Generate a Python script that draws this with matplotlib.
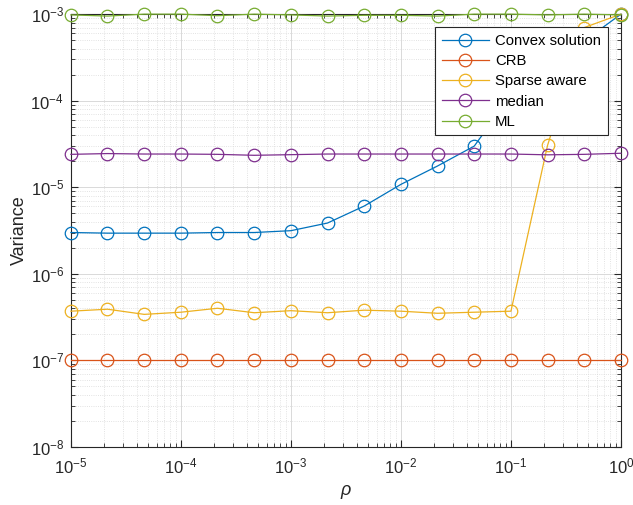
import numpy as np
import matplotlib
matplotlib.use("Agg")
import matplotlib.pyplot as plt
from matplotlib.ticker import FuncFormatter

rho = [1e-5, 2.15e-5, 4.64e-5, 1e-4, 2.15e-4, 4.64e-4, 1e-3, 2.15e-3,
       4.64e-3, 1e-2, 2.15e-2, 4.64e-2, 1e-1, 2.15e-1, 4.64e-1, 1e0]

convex = [3.0e-6, 2.95e-6, 2.95e-6, 2.95e-6, 3.0e-6, 3.0e-6, 3.15e-6, 3.86e-6,
          6.07e-6, 1.08e-5, 1.76e-5, 2.99e-5, 1.15e-4, 2.5e-4, 4.9e-4, 1.0e-3]
crb = [1e-7] * 16
sparse = [3.7e-7, 3.9e-7, 3.4e-7, 3.6e-7, 4.0e-7, 3.55e-7, 3.75e-7, 3.55e-7,
          3.8e-7, 3.7e-7, 3.5e-7, 3.6e-7, 3.7e-7, 3.04e-5, 7.0e-4, 1.0e-3]
median = [2.4e-5, 2.45e-5, 2.42e-5, 2.42e-5, 2.4e-5, 2.34e-5, 2.38e-5, 2.42e-5,
          2.42e-5, 2.42e-5, 2.42e-5, 2.42e-5, 2.42e-5, 2.37e-5, 2.4e-5, 2.47e-5]
ml = [0.98e-3, 0.95e-3, 1.0e-3, 1.0e-3, 0.96e-3, 1.0e-3, 0.98e-3, 0.95e-3,
      0.97e-3, 0.97e-3, 0.95e-3, 1.0e-3, 1.0e-3, 0.98e-3, 1.0e-3, 0.98e-3]

labels = ["Convex solution", "CRB", "Sparse aware", "median", "ML"]
series = [convex, crb, sparse, median, ml]
colors = ["#0072BD", "#D95319", "#EDB120", "#7E2F8E", "#77AC30"]

plt.rcParams['font.family'] = ['Liberation Sans', 'DejaVu Sans']
plt.rcParams['mathtext.fontset'] = 'custom'
plt.rcParams['mathtext.rm'] = 'Liberation Sans'
plt.rcParams['mathtext.it'] = 'Liberation Sans:italic'

fig = plt.figure(figsize=(6.33, 5.05), dpi=100)
ax = fig.add_axes([0.112, 0.115, 0.869, 0.857])

for s, lab, c in zip(series, labels, colors):
    ax.plot(rho, s, '-o', color=c, mfc='none', mec=c, ms=9, lw=0.9,
            mew=0.9, label=lab, clip_on=False, zorder=3)

ax.set_xscale('log')
ax.set_yscale('log')
ax.set_xlim(1e-5, 1e0)
ax.set_ylim(1e-8, 1e-3)

def fmt(v, pos):
    e = int(round(np.log10(v)))
    return r'$\mathregular{10^{%d}}$' % e

ax.xaxis.set_major_formatter(FuncFormatter(fmt))
ax.yaxis.set_major_formatter(FuncFormatter(fmt))

ax.grid(True, which='major', color='#d9d9d9', lw=0.7, ls='-')
ax.grid(True, which='minor', color='#d9d9d9', lw=0.6, ls=':')
ax.set_axisbelow(True)

ax.tick_params(which='both', direction='in', top=True, right=True, labelsize=12,
               colors='#262626')
ax.tick_params(which='major', length=5)
ax.tick_params(which='minor', length=3)
ax.tick_params(axis='x', pad=7)
ax.tick_params(axis='y', pad=5)
for sp in ax.spines.values():
    sp.set_color('#262626')
    sp.set_linewidth(0.8)

ax.set_xlabel(r'$\rho$', fontsize=13, color='#262626', labelpad=5)
ax.set_ylabel('Variance', fontsize=13, color='#262626', labelpad=2)

leg = ax.legend(loc='upper right', bbox_to_anchor=(0.976, 0.970), fancybox=False,
                framealpha=1, edgecolor='#262626', fontsize=10.7, handlelength=3.2,
                borderpad=0.45, labelspacing=0.42, handletextpad=0.4,
                borderaxespad=0)
leg.get_frame().set_linewidth(0.8)

fig.savefig('out.png', dpi=100)
